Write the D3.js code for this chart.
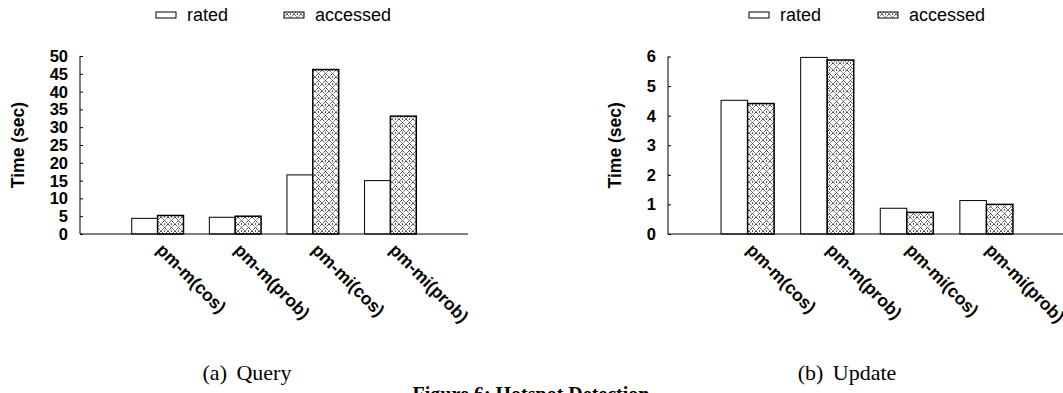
<!DOCTYPE html>
<html>
<head>
<meta charset="utf-8">
<script src="https://cdn.jsdelivr.net/npm/d3@7"></script>
<style>
    body { margin: 0; background: #fff; }
    svg { display: block; }
</style>
</head>
<body>
<div id="figure"></div>
<script>
// data
const categories = ["pm-m(cos)", "pm-m(prob)", "pm-mi(cos)", "pm-mi(prob)"];
const seriesNames = ["rated", "accessed"];

const queryRated = [4.4, 4.7, 16.6, 15.0];
const queryAccessed = [5.2, 5.0, 46.2, 33.1];
const queryTicks = [0, 5, 10, 15, 20, 25, 30, 35, 40, 45, 50];

const updateRated = [4.52, 5.97, 0.87, 1.13];
const updateAccessed = [4.41, 5.88, 0.73, 1.0];
const updateTicks = [0, 1, 2, 3, 4, 5, 6];

const width = 1063;
const height = 393;
const sans = "'Liberation Sans', Arial, Helvetica, sans-serif";
const serif = "'Liberation Serif', 'Times New Roman', serif";

var svg = d3.select("#figure")
    .append("svg")
    .attr("width", width)
    .attr("height", height);

svg.append("rect")
    .attr("width", width)
    .attr("height", height)
    .attr("fill", "#fff");

// crosshatch with dots for the "accessed" bars
var defs = svg.append("defs");
var pat = defs.append("pattern")
    .attr("id", "hatch")
    .attr("patternUnits", "userSpaceOnUse")
    .attr("width", 7)
    .attr("height", 7);
pat.append("rect").attr("width", 7).attr("height", 7).attr("fill", "#fff");
pat.append("path")
    .attr("d", "M0,0 L7,7 M7,0 L0,7")
    .attr("stroke", "#111")
    .attr("stroke-width", 0.9)
    .attr("stroke-dasharray", "1.2,0.7");
pat.append("circle").attr("cx", 3.5).attr("cy", 0).attr("r", 0.7).attr("fill", "#000");
pat.append("circle").attr("cx", 3.5).attr("cy", 7).attr("r", 0.7).attr("fill", "#000");

function drawChart(opt) {
    var g = svg.append("g");

    // x runs from -1 to 4, groups sit on 0..3
    var x = d3.scaleLinear()
        .domain([-1, categories.length])
        .range([opt.left, opt.right]);

    var y = d3.scaleLinear()
        .domain([0, d3.max(opt.ticks)])
        .range([opt.bottom, opt.top]);

    var barW = (x(1) - x(0)) / 3;

    // bars
    var groups = g.selectAll(".grp")
        .data(categories)
        .enter().append("g");

    groups.append("rect")
        .attr("x", function(d, i) { return x(i) - barW; })
        .attr("y", function(d, i) { return y(opt.rated[i]); })
        .attr("width", barW)
        .attr("height", function(d, i) { return y(0) - y(opt.rated[i]); })
        .attr("fill", "#fff")
        .attr("stroke", "#000")
        .attr("stroke-width", 1);

    groups.append("rect")
        .attr("x", function(d, i) { return x(i); })
        .attr("y", function(d, i) { return y(opt.accessed[i]); })
        .attr("width", barW)
        .attr("height", function(d, i) { return y(0) - y(opt.accessed[i]); })
        .attr("fill", "url(#hatch)")
        .attr("stroke", "#000")
        .attr("stroke-width", 1.5);

    // y axis: ticks point inward, no domain above top tick
    var yAxis = d3.axisRight(y)
        .tickValues(opt.ticks)
        .tickSize(3)
        .tickFormat("");
    var ya = g.append("g")
        .attr("transform", "translate(" + opt.left + ",0)")
        .call(yAxis);
    ya.select(".domain").remove();
    ya.selectAll("line").attr("stroke", "#000");

    g.append("line")
        .attr("x1", opt.left).attr("x2", opt.left)
        .attr("y1", y(d3.max(opt.ticks))).attr("y2", y(0))
        .attr("stroke", "#000").attr("stroke-width", 1);

    g.selectAll(".ylab")
        .data(opt.ticks)
        .enter().append("text")
        .attr("x", opt.left - 12)
        .attr("y", function(d) { return y(d); })
        .attr("dy", "0.36em")
        .attr("text-anchor", "end")
        .attr("font-family", sans)
        .attr("font-weight", "bold")
        .attr("font-size", 16.5)
        .text(function(d) { return d; });

    // baseline
    g.append("line")
        .attr("x1", x(-1)).attr("x2", x(categories.length))
        .attr("y1", y(0)).attr("y2", y(0))
        .attr("stroke", "#000").attr("stroke-width", 1.2);

    // rotated category labels
    g.selectAll(".xlab")
        .data(categories)
        .enter().append("text")
        .attr("transform", function(d, i) {
            return "translate(" + (x(i) - 2) + "," + (y(0) + 17) + ") rotate(45)";
        })
        .attr("font-family", sans)
        .attr("font-weight", "bold")
        .attr("font-size", 17.5)
        .text(function(d) { return d; });

    // y title
    g.append("text")
        .attr("transform", "translate(" + opt.titleX + "," + ((opt.top + opt.bottom) / 2) + ") rotate(-90)")
        .attr("dy", "0.36em")
        .attr("text-anchor", "middle")
        .attr("font-family", sans)
        .attr("font-weight", "bold")
        .attr("font-size", 17.5)
        .text("Time (sec)");

    // legend
    var lg = g.append("g");
    lg.append("rect")
        .attr("x", opt.legX[0]).attr("y", 12)
        .attr("width", 20).attr("height", 6)
        .attr("fill", "#fff").attr("stroke", "#000");
    lg.append("rect")
        .attr("x", opt.legX[1]).attr("y", 12)
        .attr("width", 20).attr("height", 6)
        .attr("fill", "url(#hatch)").attr("stroke", "#000");
    lg.selectAll("text")
        .data(seriesNames)
        .enter().append("text")
        .attr("x", function(d, i) { return opt.legX[i] + 31; })
        .attr("y", 21)
        .attr("font-family", sans)
        .attr("font-size", 18)
        .text(function(d) { return d; });

    // sub caption
    g.append("text")
        .attr("x", opt.capX)
        .attr("y", 380)
        .attr("text-anchor", "middle")
        .attr("font-family", serif)
        .attr("font-size", 22)
        .attr("word-spacing", 4)
        .text(opt.caption);
}

drawChart({
    rated: queryRated, accessed: queryAccessed, ticks: queryTicks,
    left: 80, right: 468, top: 56, bottom: 234,
    titleX: 18, legX: [156, 284], capX: 247, caption: "(a) Query"
});

drawChart({
    rated: updateRated, accessed: updateAccessed, ticks: updateTicks,
    left: 668, right: 1066, top: 56.5, bottom: 234,
    titleX: 615, legX: [749, 878], capX: 847, caption: "(b) Update"
});

// figure caption, cut by the bottom edge as in the source
svg.append("text")
    .attr("x", 531)
    .attr("y", 401)
    .attr("text-anchor", "middle")
    .attr("font-family", serif)
    .attr("font-weight", "bold")
    .attr("font-size", 20)
    .text("Figure 6: Hotspot Detection");
</script>
</body>
</html>
